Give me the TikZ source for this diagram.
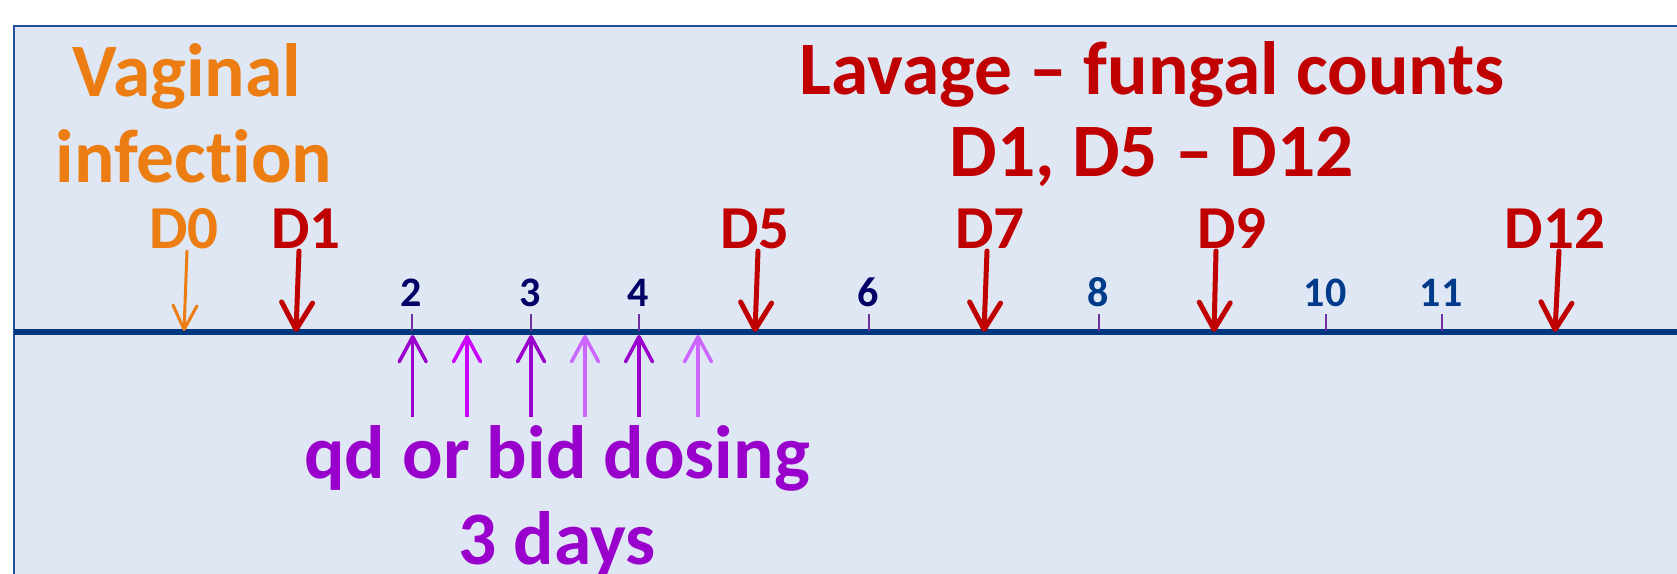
\documentclass[tikz,border=0pt]{standalone}
\usepackage{fontspec}
\setmainfont{Carlito}[Ligatures={NoCommon}]
\usetikzlibrary{arrows.meta}

\definecolor{panelfill}{RGB}{222,231,243}
\definecolor{frameblue}{RGB}{32,80,150}
\definecolor{axisblue}{RGB}{0,56,128}
\definecolor{infectorange}{RGB}{236,125,18}
\definecolor{lavagered}{RGB}{192,0,0}
\definecolor{dosepurple}{RGB}{153,0,204}
\definecolor{dosemagenta}{RGB}{204,0,255}
\definecolor{doselilac}{RGB}{204,102,255}
\definecolor{ticknavy}{RGB}{0,0,102}
\definecolor{tickblue}{RGB}{0,58,138}
\definecolor{tickmark}{RGB}{112,48,160}

\tikzset{
  bigtext/.style={font=\fontsize{75.5}{75.5}\selectfont\bfseries, inner sep=0pt, anchor=base},
  daylabel/.style={font=\fontsize{61}{61}\selectfont\bfseries, inner sep=0pt, anchor=base},
  daynum/.style={font=\fontsize{42}{42}\selectfont\bfseries, inner sep=0pt, anchor=base},
  sampling/.style={draw=lavagered, line width=5pt, line cap=round,
    -{Straight Barb[length=27pt,width=31pt,round]}},
  infectarrow/.style={draw=infectorange, line width=3pt, line cap=round,
    -{Straight Barb[length=24pt,width=24pt,round]}},
  dosearrow/.style={line width=3.5pt,
    -{Straight Barb[length=25pt,width=27pt,round]}},
  tickline/.style={draw=tickmark, line width=2pt},
}

\begin{document}
\begin{tikzpicture}[x=1pt,y=-1pt]
\useasboundingbox (0,0) rectangle (1677,573);
\clip (0,0) rectangle (1677,573);
\fill[white] (0,0) rectangle (1677,573);

% panel
\filldraw[fill=panelfill, draw=frameblue, line width=2.5pt] (14,26) rectangle (1700,600);

% time axis
\coordinate (axL) at (14,332);
\coordinate (axR) at (1690,332);
\draw[axisblue, line width=6pt] (axL) -- (axR);

% headings
\node[bigtext, text=infectorange] (vag) at (187,96) {Vaginal};
\node[bigtext, text=infectorange] (inf) at (194,182) {infection};
\node[bigtext, text=lavagered] (lav) at (1152,94) {Lavage – fungal counts};
\node[bigtext, text=lavagered] (lavdays) at (1152,176) {D1, D5 – D12};
\node[bigtext, text=dosepurple] (dose) at (557,478) {qd or bid dosing};
\node[bigtext, text=dosepurple] (dosedays) at (557,564) {3 days};

% sampling day labels
\node[daylabel, text=infectorange] (d0) at (184,248) {D0};
\node[daylabel, text=lavagered] (d1) at (306,248) {D1};
\node[daylabel, text=lavagered] (d5) at (755,248) {D5};
\node[daylabel, text=lavagered] (d7) at (990,248) {D7};
\node[daylabel, text=lavagered] (d9) at (1232,248) {D9};
\node[daylabel, text=lavagered] (d12) at (1555,248) {D12};

% day numbers and ticks
\foreach \nm/\x/\col in {2/412/ticknavy, 3/531/ticknavy, 4/639/ticknavy,
                         6/869/ticknavy, 8/1099/tickblue, 10/1326/tickblue, 11/1442/tickblue}{
  \node[daynum, text=\col] (n\nm) at (\x-1,306) {\nm};
  \coordinate (t\nm a) at (\x,314);
  \coordinate (t\nm b) at (\x,331);
  \draw[tickline] (t\nm a) -- (t\nm b);
}

% sampling arrows
\coordinate (a0s) at (187,251);   \coordinate (a0e) at (184,331);
\coordinate (a1s) at (299,251);   \coordinate (a1e) at (296,332);
\coordinate (a5s) at (758,251);   \coordinate (a5e) at (755,332);
\coordinate (a7s) at (987,251);   \coordinate (a7e) at (984,332);
\coordinate (a9s) at (1216,251);  \coordinate (a9e) at (1214,332);
\coordinate (a12s) at (1559,251); \coordinate (a12e) at (1555,332);
\draw[infectarrow] (a0s) -- (a0e);
\foreach \k in {1,5,7,9,12}{
  \draw[sampling] (a\k s) -- (a\k e);
}

% dosing arrows
\foreach \i/\x/\col in {1/412.7/dosepurple, 2/467/dosemagenta, 3/531/dosepurple,
                        4/585/doselilac, 5/639/dosepurple, 6/698/doselilac}{
  \coordinate (dz\i) at (\x,417);
  \coordinate (dt\i) at (\x,335);
  \draw[dosearrow, draw=\col] (dz\i) -- (dt\i);
}
\end{tikzpicture}
\end{document}
